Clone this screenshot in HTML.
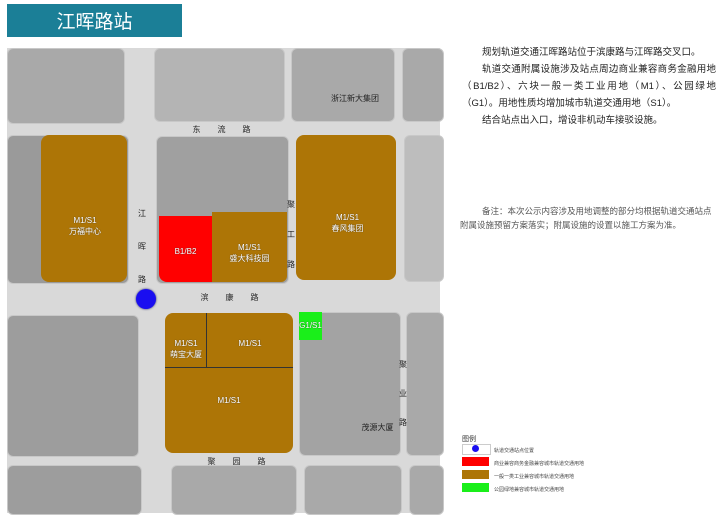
<!DOCTYPE html>
<html><head><meta charset="utf-8"><style>
body{margin:0;width:720px;height:516px;background:#fff;position:relative;overflow:hidden;font-family:"Liberation Sans","Noto Sans CJK SC",sans-serif}
.a{position:absolute}
.g{position:absolute;background:#a9a9a9;border-radius:6px;border:1px solid #c8c8c8}
.b{position:absolute;background:#ad7506;border-radius:8px}
.l{position:absolute;font-size:8px;color:#222;text-align:center;white-space:nowrap}
.w{position:absolute;font-size:8px;color:#fff;text-align:center;line-height:11px;text-shadow:0 0 1px #333}
.t{font-size:9.5px;color:#222;line-height:17px}
</style></head><body>
<div class="a" style="left:7px;top:4px;width:175px;height:33px;background:#1b7f97;color:#fff;font-size:19px;line-height:33px;text-align:center;font-family:'Noto Sans CJK SC',sans-serif">江晖路站</div>
<div class="a" style="left:7px;top:48px;width:433px;height:465px;background:#d9d9d9"></div>
<!-- row1 -->
<div class="g" style="left:7px;top:48px;width:116px;height:74px"></div>
<div class="g" style="left:154px;top:48px;width:129px;height:72px;background:#b4b4b4"></div>
<div class="g" style="left:291px;top:48px;width:102px;height:72px"></div>
<div class="g" style="left:402px;top:48px;width:40px;height:72px"></div>
<!-- row2 -->
<div class="g" style="left:7px;top:135px;width:120px;height:147px;background:#9a9a9a"></div>
<div class="b" style="left:41px;top:135px;width:86px;height:147px"></div>
<div class="g" style="left:156px;top:136px;width:131px;height:146px;background:#a0a0a0"></div>
<div class="a" style="left:159px;top:216px;width:53px;height:66px;background:#f00;border-radius:0 0 0 8px"></div>
<div class="a" style="left:212px;top:212px;width:75px;height:70px;background:#ad7506;border-radius:0 0 6px 0"></div>
<div class="b" style="left:296px;top:135px;width:100px;height:145px"></div>
<div class="g" style="left:404px;top:135px;width:38px;height:145px;background:#bdbdbd"></div>
<!-- row3 -->
<div class="g" style="left:7px;top:315px;width:130px;height:140px;background:#9d9d9d"></div>
<div class="b" style="left:165px;top:313px;width:128px;height:140px"></div>
<div class="a" style="left:206px;top:313px;width:1px;height:55px;background:#333"></div>
<div class="a" style="left:165px;top:367px;width:128px;height:1px;background:#333"></div>
<div class="g" style="left:299px;top:312px;width:100px;height:142px;background:#a3a3a3"></div>
<div class="a" style="left:299px;top:312px;width:23px;height:28px;background:#1aef1a"></div>
<div class="g" style="left:406px;top:312px;width:36px;height:142px"></div>
<!-- row4 -->
<div class="g" style="left:7px;top:465px;width:133px;height:48px;background:#9d9d9d"></div>
<div class="g" style="left:171px;top:465px;width:124px;height:48px"></div>
<div class="g" style="left:304px;top:465px;width:96px;height:48px"></div>
<div class="g" style="left:409px;top:465px;width:33px;height:48px"></div>
<div class="a" style="left:136px;top:289px;width:20px;height:20px;border-radius:50%;background:#1a0ef0;box-shadow:0 0 2px #226"></div>
<!-- labels -->
<div class="w" style="left:50px;top:215px;width:70px">M1/S1<br>万福中心</div>
<div class="w" style="left:159px;top:246px;width:53px">B1/B2</div>
<div class="w" style="left:212px;top:242px;width:75px">M1/S1<br>盛大科技园</div>
<div class="w" style="left:300px;top:212px;width:95px">M1/S1<br>春风集团</div>
<div class="w" style="left:165px;top:338px;width:42px">M1/S1<br>萌宝大厦</div>
<div class="w" style="left:207px;top:338px;width:86px">M1/S1</div>
<div class="w" style="left:165px;top:395px;width:128px">M1/S1</div>
<div class="w" style="left:299px;top:320px;width:23px">G1/S1</div>
<div class="l" style="left:310px;top:93px;width:90px">浙江新大集团</div>
<div class="l" style="left:355px;top:422px;width:45px">茂源大厦</div>
<div class="l" style="left:190px;top:124px;width:80px;letter-spacing:17px">东流路</div>
<div class="l" style="left:198px;top:292px;width:80px;letter-spacing:17px">滨康路</div>
<div class="l" style="left:205px;top:456px;width:80px;letter-spacing:17px">聚园路</div>
<div class="l" style="left:137px;top:197px;width:10px;line-height:33px;white-space:normal">江晖路</div>
<div class="l" style="left:286px;top:190px;width:10px;line-height:30px;white-space:normal">聚工路</div>
<div class="l" style="left:398px;top:350px;width:10px;line-height:29px;white-space:normal">聚业路</div>
<!-- text -->
<div class="a t" style="left:462px;top:44px;width:254px">
<div style="text-indent:20px">规划轨道交通江晖路站位于滨康路与江晖路交叉口。</div>
<div style="text-indent:20px;text-align:justify">轨道交通附属设施涉及站点周边商业兼容商务金融用地（B1/B2）、六块一般一类工业用地（M1）、公园绿地（G1）。用地性质均增加城市轨道交通用地（S1）。</div>
<div style="text-indent:20px">结合站点出入口，增设非机动车接驳设施。</div>
</div>
<div class="a" style="left:460px;top:204px;width:256px;font-size:8.5px;color:#555;line-height:14px;text-indent:22px">备注：本次公示内容涉及用地调整的部分均根据轨道交通站点附属设施预留方案落实；附属设施的设置以施工方案为准。</div>
<!-- legend -->
<div class="a" style="left:462px;top:434px;font-size:7px;color:#333">图例</div>
<div class="a" style="left:462px;top:444px;width:27px;height:9px;background:#fff;border:1px solid #ccc"></div>
<div class="a" style="left:472px;top:445px;width:7px;height:7px;border-radius:50%;background:#1a0ef0"></div>
<div class="a" style="left:462px;top:457px;width:27px;height:9px;background:#f00"></div>
<div class="a" style="left:462px;top:470px;width:27px;height:9px;background:#ad7506"></div>
<div class="a" style="left:462px;top:483px;width:27px;height:9px;background:#1aef1a"></div>
<div class="a" style="left:494px;top:445px;font-size:5px;color:#444;line-height:13px">轨道交通站点位置<br>商业兼容商务金融兼容城市轨道交通用地<br>一般一类工业兼容城市轨道交通用地<br>公园绿地兼容城市轨道交通用地</div>
</body></html>
